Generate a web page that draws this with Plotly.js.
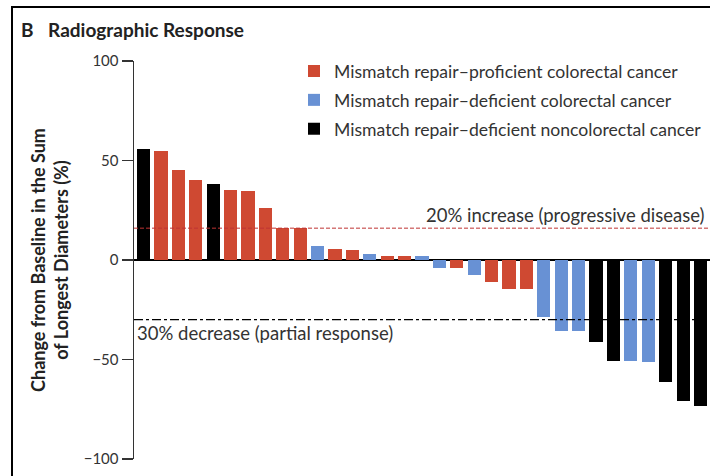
<!DOCTYPE html>
<html>
<head>
<meta charset="utf-8">
<script src="https://cdn.plot.ly/plotly-3.0.1.min.js"></script>
<style>html,body{margin:0;padding:0;background:#fff;}#chart{width:710px;height:476px;}</style>
</head>
<body>
<div id="chart"></div>
<script>
// Patients ordered by change (waterfall)
const patientIndex = [1,2,3,4,5,6,7,8,9,10,11,12,13,14,15,16,17,18,19,20,21,22,23,24,25,26,27,28,29,30,31,32,33];
const changePct = [56,55,45,40,38,35,34.5,26,16,16,7,5.5,5,3,2.2,2.2,2.2,-4,-4,-7.7,-11,-14.7,-14.7,-28.5,-35.7,-35.7,-41.4,-50.8,-50.8,-51.4,-61.5,-70.9,-73.5];
const groupOf = ["N","P","P","P","N","P","P","P","P","P","D","P","P","D","P","P","D","D","P","D","P","P","P","D","D","D","N","N","D","D","N","N","N"];
const groupKeys = ["P","D","N"];
const groupNames = ["Mismatch repair\u2013proficient colorectal cancer","Mismatch repair\u2013deficient colorectal cancer","Mismatch repair\u2013deficient noncolorectal cancer"];
const groupColors = ["rgb(207,73,50)","rgb(104,145,212)","rgb(0,0,0)"];
const yTicks = [-100,-50,0,50,100];
const progressiveLine = 16;
const partialLine = -30;

const traces = groupKeys.map((k, gi) => {
  const xs = [], ys = [];
  patientIndex.forEach((p, i) => { if (groupOf[i] === k) { xs.push(p); ys.push(changePct[i]); } });
  return {
    type: 'bar', x: xs, y: ys, name: groupNames[gi], legendgroup: k,
    width: 0.75, marker: {color: groupColors[gi], line: {width: 0}},
    hoverinfo: 'skip'
  };
});

const FONT = 'Lato, "Open Sans", sans-serif';
const layout = {
  width: 710, height: 476, autosize: false,
  margin: {l: 134, r: 0, t: 61, b: 17, autoexpand: false},
  paper_bgcolor: '#fff', plot_bgcolor: '#fff',
  barmode: 'overlay', bargap: 0,
  font: {family: FONT, color: '#333', size: 14},
  title: {text: '<b>B</b>   <b>Radiographic Response</b>', x: 21/710, xanchor: 'left', xref: 'container',
          y: 1 - 30/476, yref: 'container', yanchor: 'middle', font: {size: 19, color: '#222', family: FONT}},
  xaxis: {range: [0.45, 33.55], showgrid: false, zeroline: false, showline: false, showticklabels: false, ticks: '', fixedrange: true},
  yaxis: {range: [-100, 100], tickvals: yTicks, ticktext: yTicks.map(v => v < 0 ? '\u2212' + Math.abs(v) : String(v)),
          showgrid: false, showline: true, linecolor: '#333', linewidth: 1.5,
          ticks: 'outside', ticklen: 11, tickwidth: 1.5, tickcolor: '#333',
          tickfont: {size: 15, color: '#333', family: FONT},
          zeroline: true, zerolinecolor: '#000', zerolinewidth: 1.5,
          title: {text: '<b>Change from Baseline in the Sum</b><br><b>of Longest Diameters (%)</b>', standoff: 10,
                  font: {size: 18, color: '#222', family: FONT}}},
  showlegend: true,
  legend: {x: (294-134)/576, y: 1.02, xanchor: 'left', yanchor: 'top', bgcolor: 'rgba(0,0,0,0)',
           font: {size: 17.6, color: '#333', family: FONT}, tracegroupgap: 3, traceorder: 'grouped'},
  shapes: [
    {type: 'line', xref: 'paper', x0: 0, x1: 1, yref: 'y', y0: progressiveLine, y1: progressiveLine,
     line: {color: 'rgb(190,50,50)', width: 1, dash: '4px,2px'}, layer: 'above'},
    {type: 'line', xref: 'paper', x0: 0, x1: 1, yref: 'y', y0: partialLine, y1: partialLine,
     line: {color: '#000', width: 1.3, dash: 'dashdot'}, layer: 'above'},
    {type: 'rect', xref: 'paper', yref: 'paper', x0: (12-134)/576, x1: 1.2, y0: -0.2, y1: (459-7)/398,
     line: {color: '#000', width: 2}, fillcolor: 'rgba(0,0,0,0)', layer: 'above'}
  ],
  annotations: [
    {text: '20% increase (progressive disease)', xref: 'paper', x: (707-134)/576, xanchor: 'right',
     yref: 'y', y: progressiveLine, yanchor: 'bottom', yshift: 0, showarrow: false,
     font: {size: 18.5, color: '#333', family: FONT}},
    {text: '30% decrease (partial response)', xref: 'paper', x: (135-134)/576, xanchor: 'left',
     yref: 'y', y: partialLine, yanchor: 'top', yshift: 0, showarrow: false,
     font: {size: 18.5, color: '#333', family: FONT}}
  ]
};

Plotly.newPlot('chart', traces, layout, {displayModeBar: false, staticPlot: true});
</script>
</body>
</html>
